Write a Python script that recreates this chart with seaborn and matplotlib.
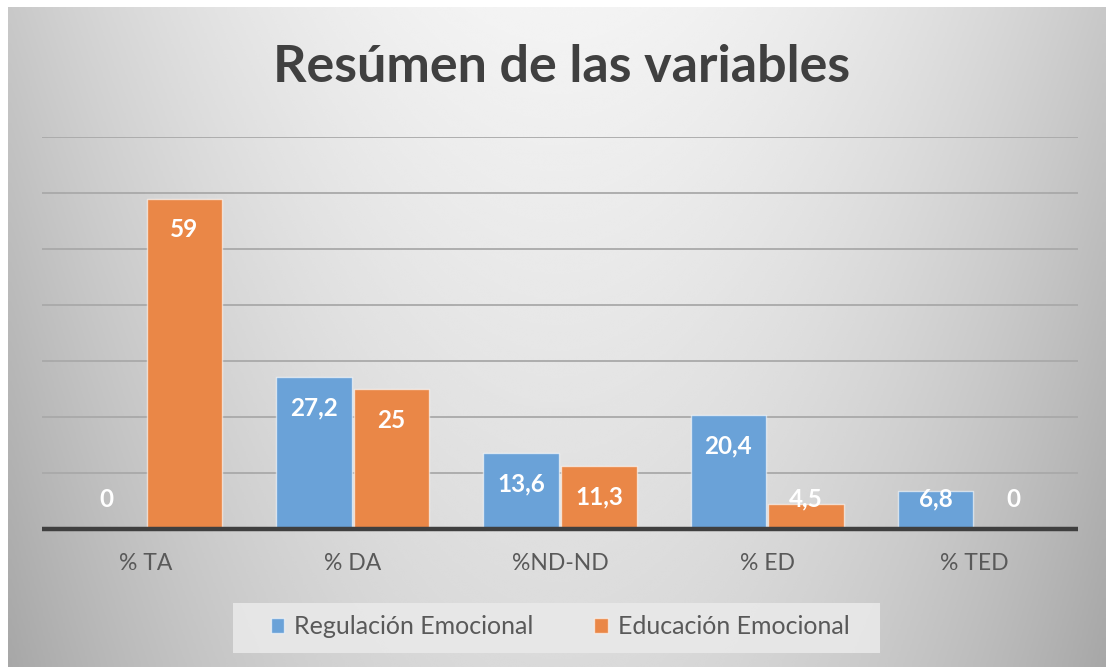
import numpy as np
import pandas as pd
import matplotlib
matplotlib.use("Agg")
import matplotlib.pyplot as plt
from matplotlib.patches import Rectangle
import seaborn as sns

categories = ["% TA", "% DA", "%ND-ND", "% ED", "% TED"]
series_names = ["Regulación Emocional", "Educación Emocional"]
regulacion = [0, 27.2, 13.6, 20.4, 6.8]
educacion = [59, 25, 11.3, 4.5, 0]
value_labels_reg = ["0", "27,2", "13,6", "20,4", "6,8"]
value_labels_edu = ["59", "25", "11,3", "4,5", "0"]
title = "Resúmen de las variables"

df = pd.DataFrame({
    "cat": categories * 2,
    "serie": [series_names[0]] * 5 + [series_names[1]] * 5,
    "val": regulacion + educacion,
})

sns.set_theme(style="white")
plt.rcParams["font.family"] = ["Lato", "DejaVu Sans"]

W, H = 1106, 667
fig = plt.figure(figsize=(W / 100, H / 100), dpi=100)
fig.patch.set_facecolor("white")

# gradient background
bg = fig.add_axes([8 / W, 0, 1 - 8 / W, 1 - 7 / H], zorder=0)
yy, xx = np.mgrid[0:1:300j, 0:1:500j]
dx = (xx - 0.5) / 0.5
val = 0.955 - 0.17 * dx ** 2 - 0.10 * yy - 0.03 * (dx ** 2) * yy
bg.imshow(val, cmap="gray", vmin=0, vmax=1, aspect="auto", extent=[0, 1, 1, 0], interpolation="bicubic")
bg.set_axis_off()

# legend background box
fig.patches.append(Rectangle((233 / W, 1 - 653 / H), (880 - 233) / W, 50 / H,
                             transform=fig.transFigure, facecolor="#e9e9e9",
                             edgecolor="none", alpha=0.9, zorder=0.5))

ax = fig.add_axes([42 / W, 138 / H, (1078 - 42) / W, (529 - 137) / H], zorder=1)
ax.patch.set_alpha(0)

colors = ["#6aa2d8", "#ea8747"]
sns.barplot(data=df, x="cat", y="val", hue="serie", order=categories,
            hue_order=series_names, palette=colors, saturation=1, width=0.75, gap=0.03,
            edgecolor=(1, 1, 1, 0.6), linewidth=1.0, ax=ax, legend=True, zorder=3)

ax.set_ylim(0, 70)
ax.set_xlim(-0.5, 4.5)
ax.set_yticks([])
for g in range(10, 71, 10):
    ax.axhline(g, color="#a9a9a9", lw=1.3, zorder=1)
ax.axhline(0, color="#3f3f3f", lw=3.2, zorder=4, clip_on=False, solid_capstyle="butt")
for s in ax.spines.values():
    s.set_visible(False)
ax.set_xlabel("")
ax.set_ylabel("")
ax.tick_params(axis="x", length=0, pad=17, labelsize=16.5, labelcolor="#595959")

# data labels
offsets = [-0.1875, 0.1875]
for si, (vals, labs) in enumerate([(regulacion, value_labels_reg), (educacion, value_labels_edu)]):
    for ci, (v, lab) in enumerate(zip(vals, labs)):
        y = max(v - 5.55, 5.35)
        ax.text(ci + offsets[si], y, lab, ha="center", va="center", color="white",
                fontsize=17.5, fontweight="bold", zorder=5)

leg = ax.legend(loc="center", bbox_to_anchor=(560 / W, 1 - 627 / H), bbox_transform=fig.transFigure,
                ncol=2, frameon=False, fontsize=18, handlelength=0.55, handleheight=0.55,
                handletextpad=0.4, columnspacing=2.4, borderpad=0.3)
for t in leg.get_texts():
    t.set_color("#595959")

fig.text(562 / W, 1 - 68 / H, title, ha="center", va="center", fontsize=37.5,
         fontweight="bold", color="#404040")

fig.savefig("out.png", dpi=100)
